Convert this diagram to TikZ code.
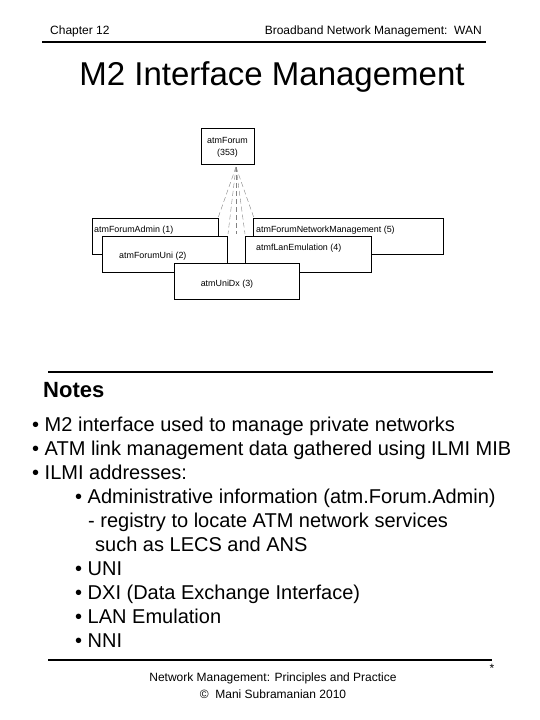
\documentclass[tikz,border=0pt]{standalone}
\usepackage{fontspec}
\setmainfont{Liberation Sans}
\begin{document}
\begin{tikzpicture}[x=1pt,y=-1pt,
  cls/.style={draw=black,fill=white,line width=0.6pt},
  lbl/.style={font=\fontsize{8.9}{10}\selectfont,inner sep=0pt},
  dep/.style={draw=black!50,dash pattern=on 5pt off 3pt,line width=0.4pt},
  rule/.style={line width=1.6pt},
  hdr/.style={font=\fontsize{12}{14}\selectfont,inner sep=0pt},
  note/.style={font=\fontsize{20}{24}\selectfont,inner sep=0pt,anchor=base west}]
\useasboundingbox (0,0) rectangle (540,720);
% header
\node[hdr,anchor=base west] (chap) at (50,34) {Chapter 12};
\node[hdr,anchor=base east] (book) at (482,34) {Broadband Network Management:\ \ WAN};
\coordinate (r1a) at (42,42); \coordinate (r1b) at (486,42);
\draw[rule] (r1a) -- (r1b);
\node[font=\fontsize{33}{38}\selectfont,inner sep=0pt,anchor=base] (title) at (272,85) {M2 Interface Management};
% diagram
\coordinate (apex) at (236,167);
\node[cls,minimum width=53pt,minimum height=36pt,inner sep=0pt] (forum) at (227.5,146) {};
\node[lbl,anchor=base] (forumt) at (227.5,143) {atmForum};
\node[lbl,anchor=base] (forumn) at (227.5,155) {(353)};
\draw[dep] (apex) -- (218,218);
\draw[dep] (apex) -- (228,234);
\draw[dep] (apex) -- (236,234);
\draw[dep] (apex) -- (245,234);
\draw[dep] (apex) -- (254,218);
\node[cls,minimum width=126pt,minimum height=36pt,inner sep=0pt,anchor=north west] (admin) at (92,218) {};
\node[cls,minimum width=190pt,minimum height=36pt,inner sep=0pt,anchor=north west] (nm) at (253,218) {};
\node[lbl,anchor=base west] (admint) at (94,232) {atmForumAdmin (1)};
\node[lbl,anchor=base west] (nmt) at (256,232) {atmForumNetworkManagement (5)};
\node[cls,minimum width=125pt,minimum height=36pt,inner sep=0pt,anchor=north west] (uni) at (102,236) {};
\node[cls,minimum width=126pt,minimum height=36pt,inner sep=0pt,anchor=north west] (lan) at (245,236) {};
\node[lbl,anchor=base west] (unit) at (119,258) {atmForumUni (2)};
\node[lbl,anchor=base west] (lant) at (256,250) {atmfLanEmulation (4)};
\node[cls,minimum width=125pt,minimum height=36pt,inner sep=0pt,anchor=north west] (dx) at (174,263) {};
\node[lbl,anchor=base] (dxt) at (227,286) {atmUniDx (3)};
% notes
\coordinate (r2a) at (48,372); \coordinate (r2b) at (493,372);
\draw[rule] (r2a) -- (r2b);
\node[font=\bfseries\fontsize{22}{26}\selectfont,inner sep=0pt,anchor=base west] (notes) at (43,397) {Notes};
\node[note] (n1) at (32,431) {\textbullet\ M2 interface used to manage private networks};
\node[note] (n2) at (32,455) {\textbullet\ ATM link management data gathered using ILMI MIB};
\node[note] (n3) at (32,479) {\textbullet\ ILMI addresses:};
\node[note] (n4) at (75,503) {\textbullet\ Administrative information (atm.Forum.Admin)};
\node[note] (n5) at (88,527) {- registry to locate ATM network services};
\node[note] (n6) at (95,551) {such as LECS and ANS};
\node[note] (n7) at (75,575) {\textbullet\ UNI};
\node[note] (n8) at (75,599) {\textbullet\ DXI (Data Exchange Interface)};
\node[note] (n9) at (75,623) {\textbullet\ LAN Emulation};
\node[note] (n10) at (75,647) {\textbullet\ NNI};
\coordinate (r3a) at (48,660); \coordinate (r3b) at (492,660);
\draw[rule] (r3a) -- (r3b);
\node[hdr,anchor=base] (star) at (492,672) {*};
\node[hdr,anchor=base] (f1) at (273,681) {Network Management: Principles and Practice};
\node[hdr,anchor=base] (f2) at (273,698) {\copyright\ \ Mani Subramanian 2010};
\end{tikzpicture}
\end{document}
